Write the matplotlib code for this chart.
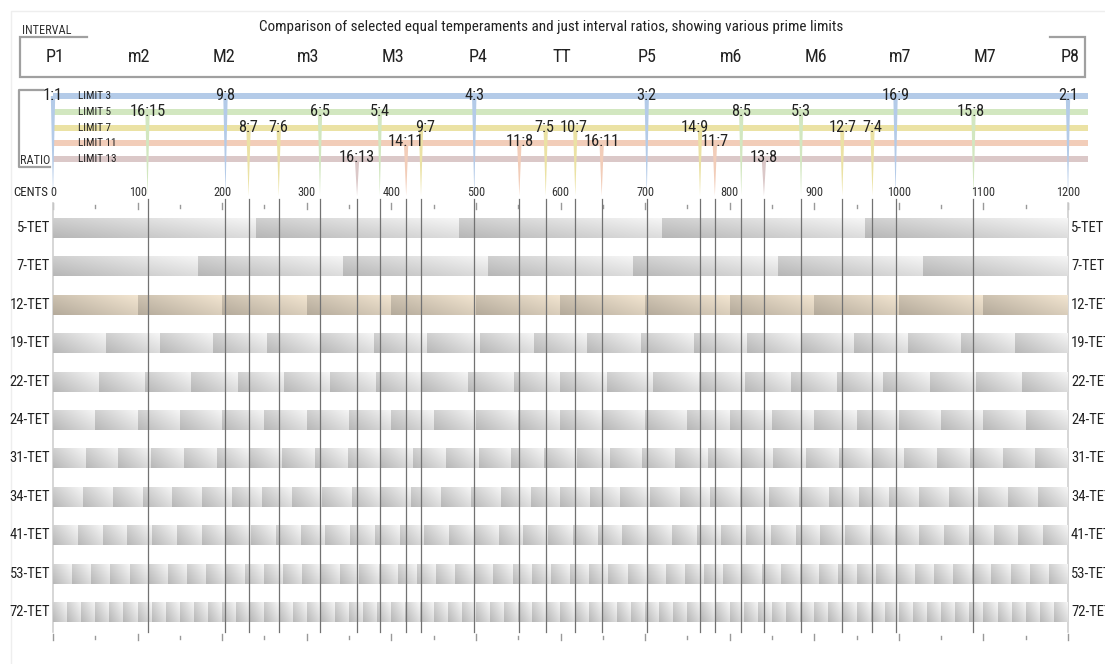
import numpy as np
import matplotlib
matplotlib.use("Agg")
import matplotlib.pyplot as plt
from matplotlib import font_manager

# pick the narrowest sans family available (reference uses a narrow face)
fams = {(f.name, f.stretch) for f in font_manager.fontManager.ttflist}
names = {n for n, s in fams}
FONT, STRETCH, K = "Liberation Sans", "normal", 0.78
for nm, k in [("Liberation Sans Narrow", 1.0), ("Arial Narrow", 1.0), ("Roboto Condensed", 0.84),
              ("Open Sans Condensed", 0.85), ("Noto Sans Condensed", 0.85)]:
    if nm in names:
        FONT, K = nm, k
        break
else:
    for nm in ["Noto Sans", "DejaVu Sans", "Open Sans", "Roboto"]:
        if (nm, "condensed") in fams or (nm, "semi-condensed") in fams:
            FONT, STRETCH, K = nm, "condensed", 0.85
            break
plt.rcParams['font.family'] = [FONT, 'DejaVu Sans']
plt.rcParams['font.stretch'] = STRETCH

title = "Comparison of selected equal temperaments and just interval ratios, showing various prime limits"
intervals = ["P1", "m2", "M2", "m3", "M3", "P4", "TT", "P5", "m6", "M6", "m7", "M7", "P8"]
limit_names = ["LIMIT 3", "LIMIT 5", "LIMIT 7", "LIMIT 11", "LIMIT 13"]
limit_colors = ["#b4cbe8", "#d2e7c0", "#ebe2a4", "#f2cdb9", "#dbc8c8"]

ratios_3 = ["1:1", "9:8", "4:3", "3:2", "16:9", "2:1"]
ratios_5 = ["16:15", "6:5", "5:4", "8:5", "5:3", "15:8"]
ratios_7 = ["8:7", "7:6", "9:7", "7:5", "10:7", "14:9", "12:7", "7:4"]
ratios_11 = ["14:11", "11:8", "16:11", "11:7"]
ratios_13 = ["16:13", "13:8"]
ratio_groups = [ratios_3, ratios_5, ratios_7, ratios_11, ratios_13]

tets = [5, 7, 12, 19, 22, 24, 31, 34, 41, 53, 72]
cent_ticks = list(range(0, 1201, 100))

# layout (pixels of the 1105x664 canvas)
X0, X1 = 53, 1068
band_y = [96, 112, 128, 143, 159]
row_y0, row_step, row_h = 228, 38.4, 20
label_shift = {"9:7": 5, "14:9": -6, "15:8": -3, "7:5": -2, "10:7": -2}


def cents(r):
    a, b = r.split(":")
    return 1200 * np.log2(int(a) / int(b))


def c_of_px(px):
    return (px - X0) * 1200 / (X1 - X0)


fig = plt.figure(figsize=(11.05, 6.64), dpi=100)
ax = fig.add_axes([0, 0, 1, 1])
ax.axis("off")

# faint outer frame
ax.plot([c_of_px(11), c_of_px(11), c_of_px(1105)], [664, 11, 11], color="#eeeeee", lw=1)

# header
ax.text(c_of_px(551), 27, title, ha="center", va="center", fontsize=13 * K, color="#222222")
ax.text(c_of_px(22), 30, "INTERVAL", ha="left", va="center", fontsize=10.5 * K, color="#333333")
hc = "#a0a0a0"
ax.plot([c_of_px(87), c_of_px(20), c_of_px(20), c_of_px(1085), c_of_px(1085), c_of_px(1050)],
        [37, 37, 77, 77, 37, 37], color=hc, lw=1.6, solid_joinstyle="miter")
for i, name in enumerate(intervals):
    ax.text(i * 100 + 2, 57, name, ha="center", va="center", fontsize=15.5 * K, color="#222222")

# ratio section bracket
ax.plot([c_of_px(43), c_of_px(19), c_of_px(19), c_of_px(50)], [90, 90, 167, 167], color=hc, lw=1.6)
ax.text(c_of_px(20), 160, "RATIO", ha="left", va="center", fontsize=10.5 * K, color="#333333")

# limit bands
band_end = c_of_px(1088)
for y, col, name in zip(band_y, limit_colors, limit_names):
    ax.fill_between([0, band_end], y - 3.2, y + 3.2, color=col, lw=0, zorder=1)
    ax.text(c_of_px(78), y, name, ha="left", va="center", fontsize=9.5 * K, color="#222222", zorder=4)

# ratio wedges and labels
for grp, y, col in zip(ratio_groups, band_y, limit_colors):
    for r in grp:
        c = cents(r)
        ax.fill([c - 2.6, c + 2.6, c], [y, y, 196], color=col, lw=0, zorder=2)
        ax.text(c + label_shift.get(r, 0), y - 1, r, ha="center", va="center",
                fontsize=14 * K, color="#222222", zorder=5)

# cents axis
ax.text(c_of_px(13), 193, "CENTS", ha="left", va="center", fontsize=11 * K, color="#222222")
for t in cent_ticks:
    ax.text(t, 193, str(t), ha="center", va="center", fontsize=10.5 * K, color="#333333")
for t in range(0, 1201, 50):
    big = t % 100 == 0
    for yb in (206, 637):
        ax.plot([t, t], [yb - (3 if big else 1.5), yb + (3 if big else 1.5)], color="#999999", lw=1)

# vertical lines at just ratios
ax.plot([0, 0], [203, 632], color="#d0d0d0", lw=1.2)
ax.plot([1200, 1200], [203, 632], color="#d0d0d0", lw=1.2)
for grp in ratio_groups:
    for r in grp:
        c = cents(r)
        if 0 < c < 1200:
            ax.plot([c, c], [199, 632], color="#727272", lw=0.9, zorder=6)

# equal temperament rows
W = 1015
cc = (np.arange(W) + 0.5) / W * 1200
v = np.linspace(0, 1, row_h * 2)[:, None]
for i, n in enumerate(tets):
    y = row_y0 + i * row_step
    f = (cc * n / 1200) % 1.0
    shade = 0.965 - 0.15 * (1 - f)[None, :] - 0.10 * v
    if n == 12:
        tint = np.array([1.0, 0.945, 0.86])
        img = np.clip(shade[..., None] * tint * 0.985, 0, 1)
    else:
        img = np.repeat(shade[..., None], 3, axis=2)
    ax.imshow(img, extent=(0, 1200, y + row_h / 2, y - row_h / 2), aspect="auto",
              interpolation="bilinear", zorder=3)
    lab = f"{n}-TET"
    ax.text(c_of_px(50), y, lab, ha="right", va="center", fontsize=12.5 * K, color="#222222")
    ax.text(c_of_px(1071), y, lab, ha="left", va="center", fontsize=12.5 * K, color="#222222")

ax.set_xlim(c_of_px(0), c_of_px(1105))
ax.set_ylim(664, 0)

fig.savefig("out.png", dpi=100, facecolor="white")
